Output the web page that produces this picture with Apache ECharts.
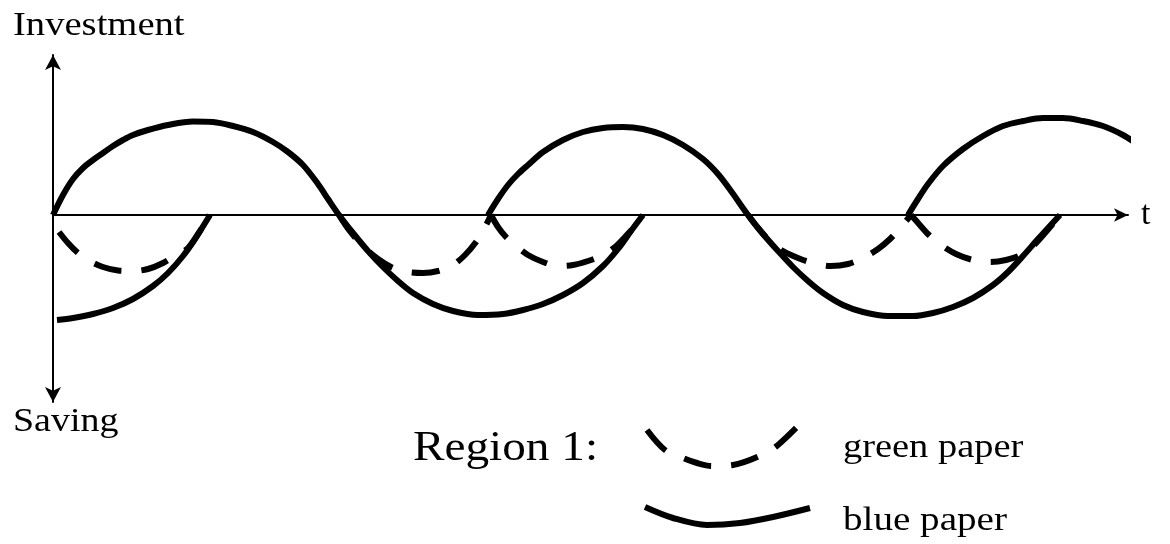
<!DOCTYPE html>
<html>
<head>
<meta charset="utf-8">
<title>Investment / Saving</title>
<script src="https://cdn.jsdelivr.net/npm/echarts@6/dist/echarts.min.js"></script>
<style>
  html, body { margin: 0; padding: 0; background: #fff; }
  #chart { width: 1170px; height: 544px; }
</style>
</head>
<body>
<div id="chart"></div>
<script>
// blue paper (solid) curves, [t, value]
const blueStart = [[0.4, -10.5], [2, -10.3], [4, -9.9], [6, -9.3], [8, -8.4], [10, -7.1], [11.5, -5.8], [13, -4.1], [14.2, -2.4], [15.7, 0]];
const blueWave1 = [[0, 0], [1, 2.0], [2, 3.6], [3, 4.7], [4, 5.5], [5, 6.2], [6, 6.9], [7, 7.5], [8, 8.0], [9.5, 8.5], [11.5, 9.0],
  [14, 9.35], [16, 9.3], [18, 8.9], [20, 8.3], [22, 7.3], [23.5, 6.3], [25, 5.0], [26.5, 3.1], [27.5, 1.6], [28.6, 0],
  [30, -1.8], [31.5, -3.6], [33, -5.2], [34.5, -6.6], [36, -7.8], [38, -8.9], [40, -9.6], [42.5, -10.0], [45, -9.9],
  [47, -9.5], [49, -8.9], [51, -8.0], [53, -6.8], [55, -5.1], [56.5, -3.4], [57.8, -1.6], [59, 0]];
const blueWave2 = [[43.5, 0], [44.5, 1.6], [45.5, 3.0], [46.5, 4.1], [47.5, 5.0], [49, 6.3], [51, 7.5], [53, 8.3], [55, 8.7],
  [57, 8.8], [59, 8.6], [61, 8.0], [63, 7.0], [65, 5.6], [66.5, 4.1], [67.8, 2.4], [69.5, 0], [71, -1.9], [72.5, -3.6],
  [74, -5.2], [75.5, -6.6], [77, -7.8], [79, -9.0], [81, -9.7], [83.5, -10.1], [86, -10.1], [88, -9.8], [90, -9.2],
  [92, -8.3], [94, -7.0], [95.5, -5.7], [97, -4.1], [98.5, -2.4], [100.7, 0]];
const blueWave3 = [[85.5, 0], [86.5, 1.6], [87.5, 3.1], [89, 4.9], [91, 6.6], [93, 7.9], [95, 8.9], [97, 9.4], [99, 9.7],
  [101, 9.7], [103, 9.4], [105, 8.9], [107, 8.0], [108.4, 7.1]];

// green paper (dashed) arcs
const greenArc1 = [[0.6, -1.7], [1.5, -2.8], [2.5, -3.8], [3.5, -4.5], [5, -5.2], [6.5, -5.55], [8, -5.6], [9.5, -5.4],
  [11, -4.8], [12.3, -4.0], [13.5, -3.3], [14.7, -1.6], [15.7, 0]];
const greenArc2 = [[28.6, 0], [29.6, -1.5], [31, -3.1], [32.5, -4.4], [34, -5.3], [35.5, -5.7], [37, -5.8], [38.5, -5.6],
  [40, -5.0], [41.2, -4.0], [42.3, -2.7], [43.1, -1.4], [43.8, 0]];
const greenArc3 = [[43.8, 0], [44.5, -1.2], [45.3, -2.2], [46.3, -3.1], [47.5, -4.0], [49, -4.7], [50.5, -5.1], [52, -5.0],
  [53.5, -4.6], [55, -4.0], [56.2, -3.2], [57.2, -2.2], [58.2, -1.1], [59, 0]];
const greenArc4 = [[69.5, 0], [70.5, -1.3], [71.7, -2.6], [73, -3.6], [74.5, -4.3], [76, -4.8], [77.8, -5.1], [79.5, -4.9],
  [81, -4.3], [82.5, -3.4], [83.7, -2.4], [84.8, -1.2], [85.8, 0]];
const greenArc5 = [[85.8, 0], [86.6, -0.9], [87.6, -2.0], [88.8, -3.0], [90.3, -3.9], [92, -4.5], [93.7, -4.7], [95.3, -4.5],
  [96.8, -4.0], [98, -3.1], [99.2, -1.8], [100.7, 0]];

// key samples for "Region 1:"
const keyGreen = [[0.7, 10.5], [2.5, 8.5], [4.3, 7.7], [5.7, 7.2], [7.2, 6.9], [9.3, 7.0], [12.2, 8.0], [13.8, 9.0], [16.2, 11.3]];
const keyBlue = [[0.5, 2.8], [3.3, 1.7], [6.7, 1.0], [10.0, 1.2], [13.3, 1.8], [17.0, 2.7]];

const ink = '#000';
const serif = '"Liberation Serif", "Times New Roman", serif';

function curve(name, data, dashed, idx) {
  return {
    name: name,
    type: 'line',
    data: data,
    xAxisIndex: idx,
    yAxisIndex: idx,
    smooth: 0.33,
    showSymbol: false,
    clip: false,
    silent: true,
    lineStyle: { color: ink, width: 6, type: dashed ? [28, 20] : 'solid', cap: 'butt', join: 'round' }
  };
}

function label(text, x, baseline, size, stretch) {
  return {
    type: 'text', x: x, y: baseline - size * 0.32, scaleX: stretch, silent: true,
    style: { text: text, font: size + 'px ' + serif, fill: ink, align: 'left', verticalAlign: 'middle' }
  };
}

const hidden = { show: false };

const chart = echarts.init(document.getElementById('chart'));
chart.setOption({
  backgroundColor: '#fff',
  animation: false,
  grid: [
    { left: 53, right: 42, top: 55, bottom: 142, outerBoundsMode: 'none' },
    { left: 640, top: 415, width: 180, height: 120, outerBoundsMode: 'none' }
  ],
  xAxis: [
    {
      type: 'value', min: 0, max: 107.5, gridIndex: 0,
      name: 't', nameLocation: 'end', nameGap: 13,
      nameTextStyle: { fontFamily: serif, fontSize: 34, color: ink, align: 'left', verticalAlign: 'middle', padding: [8, 0, 0, 0] },
      axisLine: { show: true, onZero: true, symbol: ['none', 'arrow'], symbolSize: [10, 14], symbolOffset: [0, 0],
        lineStyle: { color: ink, width: 2 } },
      axisTick: hidden, axisLabel: hidden, splitLine: hidden
    },
    { type: 'value', min: 0, max: 18, gridIndex: 1, show: false }
  ],
  yAxis: [
    {
      type: 'value', min: -18.7, max: 16, gridIndex: 0,
      axisLine: { show: true, onZero: true, symbol: ['arrow', 'arrow'], symbolSize: [12, 15], symbolOffset: [0, 0],
        lineStyle: { color: ink, width: 2 } },
      axisTick: hidden, axisLabel: hidden, splitLine: hidden
    },
    { type: 'value', min: 0, max: 12, gridIndex: 1, show: false }
  ],
  series: [
    curve('blue paper', blueStart, false, 0),
    curve('blue paper', blueWave1, false, 0),
    curve('blue paper', blueWave2, false, 0),
    curve('blue paper', blueWave3, false, 0),
    curve('green paper', greenArc1, true, 0),
    curve('green paper', greenArc2, true, 0),
    curve('green paper', greenArc3, true, 0),
    curve('green paper', greenArc4, true, 0),
    curve('green paper', greenArc5, true, 0),
    curve('green paper', keyGreen, true, 1),
    curve('blue paper', keyBlue, false, 1)
  ],
  graphic: [
    label('Investment', 13, 37, 33, 1.17),
    label('Saving', 13, 433, 33, 1.15),
    label('Region 1:', 413, 462, 42, 1.125),
    label('green paper', 843, 459, 34, 1.13),
    label('blue paper', 843, 532, 34, 1.15)
  ]
});
</script>
</body>
</html>
